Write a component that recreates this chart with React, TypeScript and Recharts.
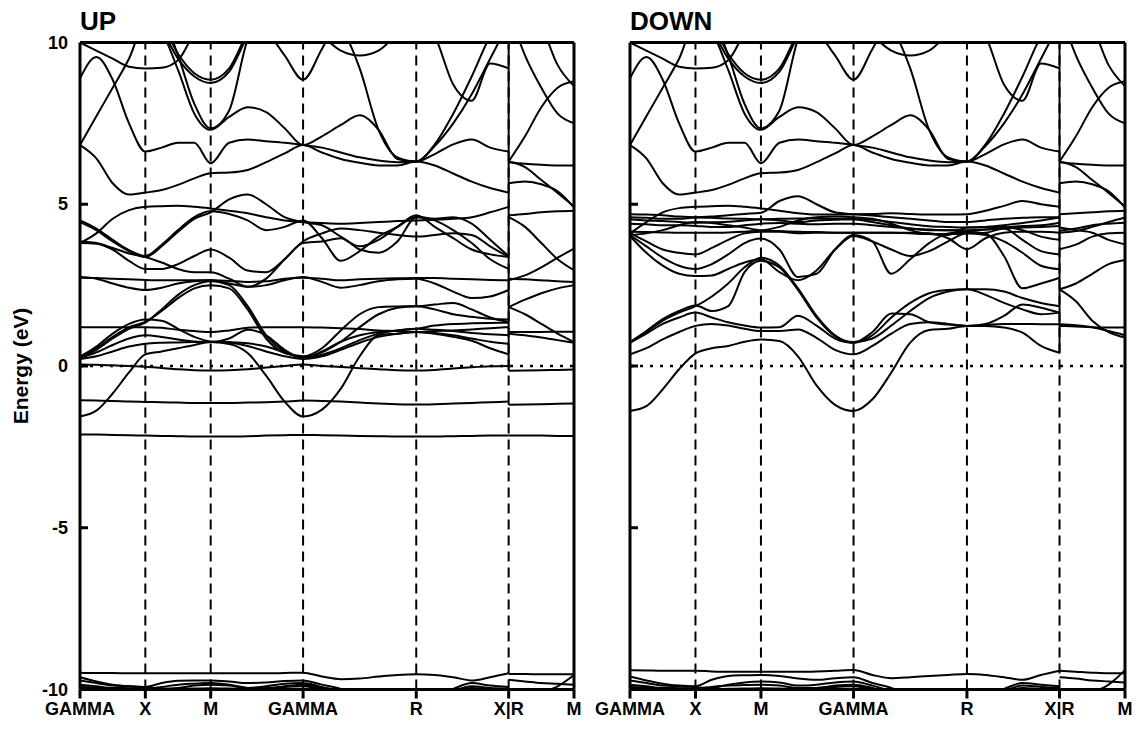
import { Line, LineChart, ReferenceLine, XAxis, YAxis } from "recharts";

const FONT = '"Liberation Sans", Arial, Helvetica, sans-serif';

// k-path: GAMMA-X-M-GAMMA-R-X | R-M (simple cubic distances, 2pi/a)
const kPath = [
  0, 0.125, 0.25, 0.375, 0.5,
  0.625, 0.75, 0.875, 1.0,
  1.1414, 1.2828, 1.4243, 1.5657, 1.7071,
  1.8514, 1.9958, 2.1401, 2.2845, 2.4288, 2.5731,
  2.7146, 2.856, 2.9974, 3.1388, 3.2802,
];
const kRM = [3.2802, 3.4052, 3.5302, 3.6552, 3.7802];
const kTicks = [0, 0.5, 1.0, 1.7071, 2.5731, 3.2802, 3.7802];
const kLabels = ["GAMMA", "X", "M", "GAMMA", "R", "X|R", "M"];
const energyTicks = [-10, -5, 0, 5, 10];

// ---- spin up, along GAMMA-X-M-GAMMA-R-X
const upCore = [
  [-9.48, -9.49, -9.49, -9.5, -9.5, -9.5, -9.5, -9.5, -9.5, -9.5, -9.5, -9.5, -9.49, -9.48, -9.6, -9.68, -9.66, -9.6, -9.55, -9.53, -9.55, -9.62, -9.72, -9.62, -9.5],
  [-9.62, -9.75, -9.85, -9.9, -9.92, -9.8, -9.73, -9.72, -9.72, -9.75, -9.8, -9.78, -9.74, -9.72, -9.85, -9.98, -10.2, -10.3, -10.3, -10.3, -10.2, -9.98, -9.8, -9.88, -9.92],
  [-9.72, -9.8, -9.88, -9.9, -9.93, -9.97, -9.95, -9.88, -9.85, -9.88, -9.95, -9.9, -9.82, -9.8, -9.92, -10.05, -10.2, -10.3, -10.3, -10.3, -10.25, -10.05, -9.9, -9.95, -9.97],
  [-9.85, -9.9, -9.95, -9.96, -9.97, -9.92, -9.85, -9.82, -9.8, -9.85, -9.95, -9.98, -9.9, -9.85, -9.95, -10.1, -10.3, -10.3, -10.3, -10.3, -10.3, -10.1, -9.95, -9.98, -10.0],
  [-9.92, -9.94, -9.96, -9.98, -9.99, -9.99, -9.98, -9.97, -9.96, -9.97, -9.98, -9.95, -9.92, -9.9, -10.0, -10.2, -10.3, -10.3, -10.3, -10.3, -10.3, -10.2, -10.0, -9.99, -9.99],
];

const upValence = [
  [-2.12, -2.12, -2.13, -2.14, -2.15, -2.16, -2.17, -2.18, -2.18, -2.18, -2.17, -2.15, -2.14, -2.13, -2.14, -2.15, -2.16, -2.17, -2.18, -2.18, -2.18, -2.17, -2.16, -2.15, -2.15],
  [-1.06, -1.07, -1.08, -1.1, -1.11, -1.12, -1.13, -1.14, -1.14, -1.14, -1.13, -1.12, -1.1, -1.07, -1.08, -1.1, -1.13, -1.16, -1.18, -1.19, -1.18, -1.16, -1.14, -1.12, -1.1],
  [-1.56, -1.38, -0.85, -0.2, 0.36, 0.45, 0.55, 0.65, 0.74, 0.68, 0.4, -0.3, -1.1, -1.56, -1.35, -0.7, 0.3, 0.95, 1.0, 1.05, 1.0, 0.9, 0.78, 0.55, 0.36],
  [0.05, 0.04, 0.02, 0.0, -0.02, -0.06, -0.1, -0.13, -0.14, -0.13, -0.1, -0.05, 0.0, 0.05, 0.0, -0.03, -0.07, -0.1, -0.13, -0.14, -0.12, -0.08, -0.04, -0.01, 0.0],
  [0.22, 0.3, 0.45, 0.6, 0.69, 0.72, 0.73, 0.74, 0.74, 0.72, 0.62, 0.45, 0.3, 0.22, 0.3, 0.5, 0.72, 0.9, 1.0, 1.05, 1.02, 0.95, 0.85, 0.75, 0.69],
  [0.25, 0.42, 0.65, 0.85, 0.95, 0.9, 0.82, 0.76, 0.74, 0.85, 1.12, 0.95, 0.5, 0.25, 0.45, 0.75, 0.95, 1.05, 1.1, 1.15, 1.12, 1.08, 1.02, 0.98, 0.95],
  [0.3, 0.55, 0.9, 1.2, 1.36, 1.7, 2.1, 2.4, 2.5, 2.4, 1.75, 0.85, 0.4, 0.3, 0.55, 1.1, 1.6, 1.82, 1.84, 1.85, 1.9, 1.95, 1.75, 1.5, 1.36],
  [0.28, 0.6, 1.0, 1.3, 1.44, 1.4, 1.15, 0.9, 0.76, 0.74, 0.7, 0.6, 0.42, 0.28, 0.42, 0.75, 1.2, 1.6, 1.8, 1.85, 1.75, 1.6, 1.52, 1.46, 1.44],
  [0.26, 0.5, 0.85, 1.15, 1.34, 1.75, 2.2, 2.5, 2.62, 2.5, 1.85, 0.95, 0.45, 0.26, 0.35, 0.55, 0.8, 1.0, 1.1, 1.15, 1.25, 1.3, 1.32, 1.33, 1.34],
  [1.2, 1.2, 1.2, 1.2, 1.2, 1.18, 1.12, 1.08, 1.05, 1.1, 1.18, 1.2, 1.2, 1.2, 1.19, 1.17, 1.14, 1.1, 1.08, 1.05, 1.08, 1.1, 1.13, 1.17, 1.2],
  [2.73, 2.72, 2.7, 2.68, 2.66, 2.65, 2.65, 2.65, 2.65, 2.63, 2.6, 2.62, 2.7, 2.73, 2.7, 2.65, 2.68, 2.7, 2.71, 2.72, 2.72, 2.7, 2.68, 2.66, 2.65],
  [2.75, 2.7, 2.55, 2.42, 2.35, 2.42, 2.55, 2.62, 2.65, 2.55, 2.45, 2.5, 2.65, 2.75, 2.6, 2.42, 2.5, 2.62, 2.68, 2.7, 2.55, 2.3, 2.1, 2.15, 2.35],
  [4.45, 4.2, 3.85, 3.55, 3.37, 3.7, 4.15, 4.55, 4.75, 5.15, 5.3, 5.0, 4.6, 4.45, 4.35, 4.0, 3.7, 3.9, 4.3, 4.66, 4.3, 3.95, 3.6, 3.45, 3.37],
  [4.5, 4.25, 3.9, 3.58, 3.4, 3.75, 4.2, 4.6, 4.78, 4.7, 4.5, 4.2, 4.3, 4.5, 3.95, 3.25, 3.55, 4.0, 4.3, 4.62, 4.55, 4.6, 4.4, 3.9, 3.4],
  [3.8, 3.78, 3.6, 3.25, 3.0, 3.0, 3.15, 3.4, 3.6, 3.35, 2.95, 2.9, 3.3, 3.8, 3.85, 3.95, 3.6, 3.5, 3.85, 4.6, 4.5, 4.2, 3.8, 3.3, 3.0],
  [3.85, 3.8, 3.65, 3.48, 3.37, 3.2, 3.0, 2.9, 2.9, 2.7, 2.45, 2.7, 3.3, 3.85, 4.1, 4.25, 4.2, 4.12, 4.05, 4.0, 4.05, 4.1, 4.05, 3.7, 3.37],
  [3.8, 4.1, 4.55, 4.82, 4.92, 4.94, 4.95, 4.92, 4.87, 4.8, 4.72, 4.6, 4.5, 4.45, 4.42, 4.4, 4.42, 4.45, 4.48, 4.5, 4.52, 4.55, 4.6, 4.75, 4.92],
];

// conduction bands above ~5 eV look the same in both spin channels
const conduction = [
  [6.83, 6.42, 5.65, 5.3, 5.36, 5.44, 5.6, 5.8, 5.96, 5.98, 6.06, 6.3, 6.57, 6.83, 6.6, 6.4, 6.28, 6.2, 6.2, 6.32, 6.2, 5.95, 5.7, 5.5, 5.36],
  [6.83, 7.72, 8.6, 9.5, 10.6, 10.3, 9.15, 7.8, 7.3, 7.7, 8.0, 7.85, 7.35, 6.83, 7.1, 7.45, 7.75, 7.3, 6.4, 6.32, 6.55, 6.85, 7.0, 6.75, 6.63],
  [8.89, 9.55, 8.85, 7.5, 6.63, 6.75, 6.9, 6.9, 6.27, 6.9, 7.0, 6.95, 6.9, 6.83, 6.75, 6.6, 6.45, 6.35, 6.3, 6.32, 6.8, 7.5, 8.4, 9.5, 10.6],
  [10.0, 9.75, 9.5, 9.25, 9.2, 9.22, 9.45, 10.3, 11, 11, 11, 10.4, 9.6, 8.85, 9.8, 10.8, 11, 11, 11, 10.8, 10.2, 8.7, 8.2, 9.35, 9.2],
  [11, 11, 11, 11, 11, 10.4, 9.5, 8.95, 8.75, 9.1, 10.2, 11, 11, 11, 11, 11, 11, 11, 11, 11, 11, 11, 11, 11, 11],
  [11, 11, 11, 11, 11, 10.6, 9.65, 9.05, 8.85, 9.2, 10.3, 11, 11, 11, 11, 11, 11, 11, 11, 11, 11, 11, 11, 11, 11],
  [11, 11, 11, 11, 11, 10.8, 9.6, 8.1, 7.35, 7.9, 10.1, 11, 11, 11, 11, 11, 11, 11, 11, 11, 11, 11, 11, 11, 11],
  [11, 11, 11, 11, 11, 11, 11, 11, 11, 11, 11, 11, 11, 11, 11, 10.5, 9.2, 7.3, 6.45, 6.32, 6.85, 7.8, 8.95, 10.2, 11],
  [11, 11, 11, 11, 11, 11, 11, 11, 11, 11, 11, 11, 11, 10.6, 10.2, 9.75, 9.6, 9.75, 10.3, 11, 11, 11, 11, 11, 11],
];

// ---- spin down, along GAMMA-X-M-GAMMA-R-X
const downCore = [
  [-9.4, -9.41, -9.42, -9.42, -9.42, -9.44, -9.45, -9.45, -9.45, -9.45, -9.45, -9.44, -9.42, -9.4, -9.55, -9.65, -9.62, -9.58, -9.55, -9.52, -9.55, -9.62, -9.7, -9.55, -9.42],
  [-9.6, -9.72, -9.82, -9.88, -9.9, -9.7, -9.58, -9.56, -9.55, -9.58, -9.66, -9.7, -9.65, -9.62, -9.8, -9.95, -10.2, -10.3, -10.3, -10.3, -10.2, -9.98, -9.8, -9.85, -9.9],
  [-9.72, -9.8, -9.88, -9.9, -9.93, -9.95, -9.85, -9.78, -9.75, -9.78, -9.88, -9.85, -9.78, -9.75, -9.88, -10.05, -10.2, -10.3, -10.3, -10.3, -10.25, -10.05, -9.88, -9.92, -9.95],
  [-9.85, -9.9, -9.95, -9.96, -9.97, -9.92, -9.88, -9.86, -9.85, -9.88, -9.95, -9.95, -9.88, -9.85, -9.95, -10.1, -10.3, -10.3, -10.3, -10.3, -10.3, -10.1, -9.95, -9.98, -10.0],
  [-9.92, -9.94, -9.96, -9.98, -9.99, -9.99, -9.98, -9.97, -9.96, -9.97, -9.98, -9.95, -9.92, -9.9, -10.0, -10.2, -10.3, -10.3, -10.3, -10.3, -10.3, -10.2, -10.0, -9.99, -9.99],
];

const downValence = [
  [-1.39, -1.24, -0.72, -0.1, 0.39, 0.55, 0.62, 0.75, 0.82, 0.77, 0.3, -0.6, -1.2, -1.39, -1.03, -0.2, 0.72, 1.11, 1.15, 1.24, 1.24, 1.19, 1.03, 0.62, 0.41],
  [0.36, 0.55, 0.82, 1.05, 1.24, 1.3, 1.25, 1.15, 1.08, 1.08, 1.13, 0.87, 0.5, 0.36, 0.62, 1.0, 1.3, 1.35, 1.3, 1.24, 1.27, 1.3, 1.3, 1.29, 1.29],
  [0.72, 1.0, 1.3, 1.5, 1.65, 1.5, 1.35, 1.25, 1.19, 1.2, 1.55, 1.25, 0.85, 0.72, 1.05, 1.62, 1.6, 1.35, 1.28, 1.24, 1.3, 1.55, 1.9, 1.8, 1.65],
  [0.72, 1.05, 1.4, 1.65, 1.85, 2.15, 2.55, 3.05, 3.35, 3.1, 2.4, 1.55, 0.95, 0.72, 0.95, 1.5, 1.95, 2.25, 2.35, 2.37, 2.37, 2.3, 2.1, 1.95, 1.85],
  [0.74, 1.08, 1.45, 1.7, 1.87, 1.7, 1.85, 2.9, 3.25, 3.05, 2.35, 1.5, 0.92, 0.74, 0.85, 1.25, 1.7, 2.1, 2.3, 2.37, 2.2, 1.95, 1.75, 1.6, 1.65],
  [4.12, 3.85, 3.6, 3.5, 3.45, 3.65, 3.9, 4.1, 4.15, 4.15, 4.1, 4.12, 4.12, 4.12, 4.12, 4.12, 4.1, 4.08, 4.08, 4.1, 4.12, 4.25, 3.9, 3.55, 3.45],
  [4.05, 3.7, 3.35, 3.1, 3.0, 3.15, 3.45, 3.8, 3.94, 3.6, 2.75, 2.85, 3.6, 4.05, 3.85, 2.85, 3.3, 3.8, 4.1, 4.15, 4.1, 3.4, 2.4, 2.55, 2.73],
  [4.02, 3.5, 3.1, 2.85, 2.78, 2.8, 3.0, 3.2, 3.3, 2.9, 2.65, 2.95, 3.6, 4.02, 3.85, 3.6, 3.4, 3.55, 3.85, 4.1, 4.05, 3.85, 3.5, 3.1, 2.99],
  [4.15, 4.14, 4.13, 4.12, 4.12, 4.12, 4.13, 4.15, 4.18, 4.17, 4.15, 4.14, 4.12, 4.12, 4.12, 4.12, 4.12, 4.1, 3.95, 3.61, 3.95, 4.12, 4.15, 4.15, 4.12],
  [4.1, 4.45, 4.75, 4.88, 4.92, 4.94, 4.95, 4.92, 4.87, 4.8, 4.72, 4.68, 4.68, 4.69, 4.7, 4.72, 4.7, 4.68, 4.68, 4.69, 4.8, 4.95, 5.1, 5.0, 4.92],
  [4.69, 4.68, 4.66, 4.62, 4.6, 4.62, 4.66, 4.7, 4.74, 5.1, 5.25, 5.0, 4.75, 4.69, 4.65, 4.6, 4.55, 4.5, 4.45, 4.45, 4.5, 4.55, 4.58, 4.6, 4.6],
  [4.6, 4.58, 4.55, 4.55, 4.59, 4.58, 4.56, 4.55, 4.54, 4.55, 4.56, 4.56, 4.55, 4.54, 4.52, 4.45, 4.38, 4.32, 4.3, 4.28, 4.3, 4.35, 4.42, 4.5, 4.59],
  [4.54, 4.5, 4.48, 4.45, 4.43, 4.44, 4.46, 4.5, 4.54, 4.5, 4.45, 4.5, 4.52, 4.54, 4.45, 4.35, 4.25, 4.2, 4.2, 4.18, 4.22, 4.28, 4.33, 4.35, 4.43],
  [4.4, 4.38, 4.35, 4.35, 4.33, 4.3, 4.3, 4.35, 4.4, 4.42, 4.4, 4.38, 4.4, 4.4, 4.35, 4.3, 4.25, 4.22, 4.2, 4.2, 4.22, 4.25, 4.28, 4.3, 4.33],
  [4.05, 4.1, 4.2, 4.35, 4.45, 4.42, 4.35, 4.28, 4.2, 4.3, 4.5, 4.6, 4.62, 4.6, 4.55, 4.4, 4.2, 4.08, 4.05, 4.28, 4.3, 4.3, 4.2, 4.0, 3.9],
];

// ---- R-M segment
const rmUpLow = [
  [-9.52, -9.52, -9.53, -9.53, -9.53],
  [-9.7, -9.75, -9.8, -9.82, -9.85],
  [-10.3, -10.3, -10.1, -9.9, -9.55],
  [-2.15, -2.15, -2.15, -2.16, -2.16],
  [-1.2, -1.19, -1.18, -1.17, -1.16],
  [-0.15, -0.14, -0.13, -0.12, -0.11],
  [1.05, 1.05, 1.05, 1.06, 1.06],
  [1.0, 0.95, 0.88, 0.8, 0.72],
  [1.82, 1.6, 1.3, 1.0, 0.74],
  [1.82, 2.05, 2.25, 2.4, 2.5],
  [2.7, 2.68, 2.65, 2.62, 2.6],
  [2.65, 2.8, 3.05, 3.35, 3.63],
  [4.6, 4.3, 3.8, 3.3, 2.96],
  [4.66, 4.7, 4.75, 4.78, 4.8],
];
const rmDownLow = [
  [-9.42, -9.45, -9.48, -9.5, -9.5],
  [-9.62, -9.66, -9.72, -9.75, -9.78],
  [-10.3, -10.3, -10.1, -9.85, -9.4],
  [1.24, 1.22, 1.2, 1.19, 1.19],
  [1.29, 1.26, 1.2, 1.08, 0.95],
  [2.37, 2.0, 1.4, 1.05, 0.88],
  [2.37, 2.55, 2.85, 3.15, 3.28],
  [3.61, 3.75, 4.0, 4.1, 4.12],
  [4.12, 4.17, 4.3, 4.45, 4.59],
  [4.69, 4.72, 4.75, 4.78, 4.8],
  [4.28, 4.2, 4.12, 3.9, 3.76],
  [4.18, 4.25, 4.35, 4.4, 4.43],
];
const rmConduction = [
  [6.32, 6.15, 5.75, 5.35, 4.93],
  [6.3, 6.25, 6.22, 6.2, 6.2],
  [5.65, 5.7, 5.62, 5.4, 4.9],
  [6.32, 7.1, 8.0, 8.6, 8.8],
  [11, 9.6, 8.6, 7.8, 7.5],
  [11, 11, 10.5, 9.3, 8.65],
];

// solid part of the X|R line (band jumps)
const upJumps = [[-0.15, 10], [-1.2, -1.1]];
const downJumps = [[0.41, 10]];

const toPoints = (ks: number[], es: number[]) => es.map((e, i) => ({ k: ks[i], e }));

type TickProps = { x?: number; y?: number; payload?: { value: number } };

function EnergyTick({ x = 0, y = 0, payload, dir, label }: TickProps & { dir: number; label: boolean }) {
  return (
    <g>
      <line x1={x} x2={x + dir * 8} y1={y} y2={y} stroke="#000" strokeWidth={3} />
      {label ? (
        <text x={x - 12} y={y} dy={6} textAnchor="end" fontFamily={FONT} fontWeight="bold" fontSize={18} fill="#000">
          {payload?.value}
        </text>
      ) : null}
    </g>
  );
}

function PathTick({ x = 0, y = 0, payload }: TickProps) {
  const idx = kTicks.indexOf(payload?.value ?? -1);
  return (
    <text x={x} y={y} dy={16} textAnchor="middle" fontFamily={FONT} fontWeight="bold" fontSize={18} fill="#000">
      {kLabels[idx] ?? ""}
    </text>
  );
}

type PanelProps = {
  left: number;
  width: number;
  axisWidth: number;
  marginRight: number;
  pathBands: number[][];
  rmBands: number[][];
  jumps: number[][];
  showEnergyLabels: boolean;
};

function BandPanel(props: PanelProps) {
  const frame = { stroke: "#000", strokeWidth: 3 };
  const lineProps = {
    dataKey: "e",
    type: "monotone" as const,
    stroke: "#000",
    strokeWidth: 2,
    dot: false,
    activeDot: false,
    isAnimationActive: false,
  };
  return (
    <div style={{ position: "absolute", left: props.left, top: 0 }}>
      <LineChart
        width={props.width}
        height={731}
        margin={{ top: 40.5, right: props.marginRight, bottom: 0, left: 0 }}
      >
        <XAxis
          type="number"
          dataKey="k"
          domain={[0, 3.7802]}
          ticks={kTicks}
          interval={0}
          height={41.5}
          axisLine={frame}
          tickLine={frame}
          tickSize={9}
          tickMargin={0}
          tick={(p: TickProps) => <PathTick {...p} />}
        />
        <XAxis xAxisId="top" orientation="top" type="number" domain={[0, 3.7802]} height={2} tick={false} tickLine={false} axisLine={frame} />
        <YAxis
          type="number"
          domain={[-10, 10]}
          allowDataOverflow
          ticks={energyTicks}
          interval={0}
          width={props.axisWidth}
          axisLine={frame}
          tickLine={false}
          tickSize={0}
          tickMargin={0}
          tick={(p: TickProps) => <EnergyTick {...p} dir={1} label={props.showEnergyLabels} />}
        />
        <YAxis
          yAxisId="right"
          orientation="right"
          type="number"
          domain={[-10, 10]}
          ticks={energyTicks}
          interval={0}
          width={2}
          axisLine={frame}
          tickLine={false}
          tickSize={0}
          tickMargin={0}
          tick={(p: TickProps) => <EnergyTick {...p} dir={-1} label={false} />}
        />
        {kTicks.slice(1, 6).map((k) => (
          <ReferenceLine key={`v-${k}`} x={k} stroke="#000" strokeWidth={2} strokeDasharray="10 6" />
        ))}
        <ReferenceLine y={0} stroke="#000" strokeWidth={2.5} strokeDasharray="3 7" />
        {props.jumps.map(([y1, y2]) => (
          <ReferenceLine
            key={`j-${y1}`}
            segment={[
              { x: 3.2802, y: y1 },
              { x: 3.2802, y: y2 },
            ]}
            stroke="#000"
            strokeWidth={2}
          />
        ))}
        {props.pathBands.map((band, i) => (
          <Line key={`p-${i}`} data={toPoints(kPath, band)} {...lineProps} />
        ))}
        {props.rmBands.map((band, i) => (
          <Line key={`r-${i}`} data={toPoints(kRM, band)} {...lineProps} />
        ))}
      </LineChart>
    </div>
  );
}

export default function App() {
  return (
    <div style={{ position: "absolute", left: 0, top: 0, width: 1140, height: 731, background: "#fff" }}>
      <BandPanel
        left={0}
        width={600}
        axisWidth={80}
        marginRight={24}
        pathBands={[...upCore, ...upValence, ...conduction]}
        rmBands={[...rmUpLow, ...rmConduction]}
        jumps={upJumps}
        showEnergyLabels
      />
      <BandPanel
        left={560}
        width={580}
        axisWidth={70}
        marginRight={13}
        pathBands={[...downCore, ...downValence, ...conduction]}
        rmBands={[...rmDownLow, ...rmConduction]}
        jumps={downJumps}
        showEnergyLabels={false}
      />
      <svg width={1140} height={731} style={{ position: "absolute", left: 0, top: 0, pointerEvents: "none" }}>
        <text x={80} y={30} fontFamily={FONT} fontWeight="bold" fontSize={26} fill="#000">
          UP
        </text>
        <text x={630} y={30} fontFamily={FONT} fontWeight="bold" fontSize={26} fill="#000">
          DOWN
        </text>
        <text
          transform="translate(28,366) rotate(-90)"
          textAnchor="middle"
          fontFamily={FONT}
          fontWeight="bold"
          fontSize={21}
          fill="#000"
        >
          Energy (eV)
        </text>
      </svg>
    </div>
  );
}
